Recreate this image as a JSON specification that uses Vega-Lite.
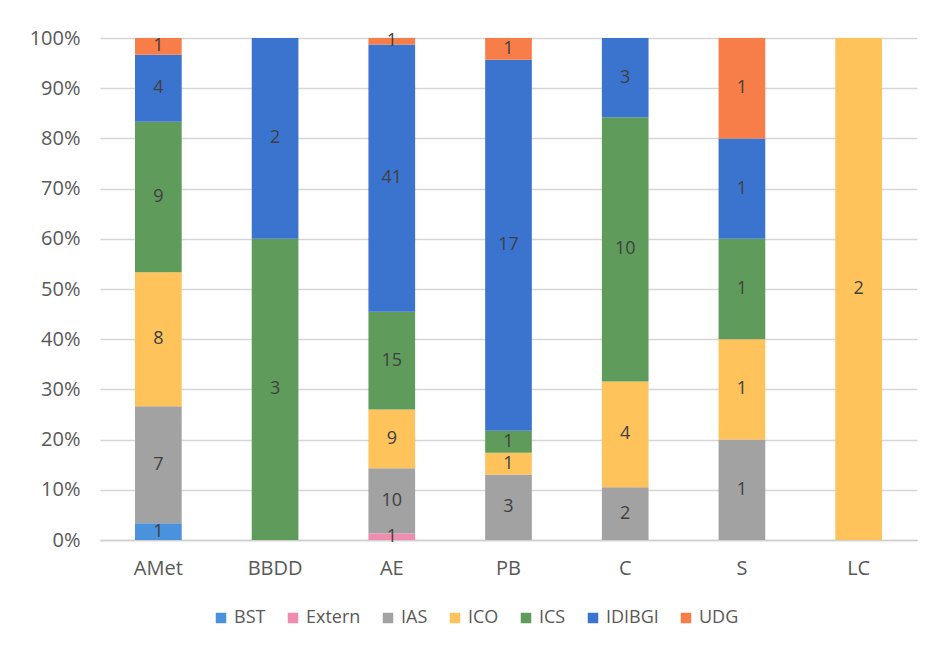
{
  "$schema": "https://vega.github.io/schema/vega-lite/v6.json",
  "width": 817,
  "height": 502,
  "autosize": {"type": "none"},
  "padding": {"left": 100, "top": 38, "right": 10, "bottom": 113},
  "background": "white",
  "config": {
    "view": {"stroke": null},
    "font": "Open Sans",
    "axis": {"labelFont": "Open Sans", "labelColor": "#595959"},
    "legend": {"labelFont": "Open Sans"}
  },
  "data": {
    "values": [
      {"cat": "AMet", "group": "BST", "ord": 1, "n": 1},
      {"cat": "AMet", "group": "IAS", "ord": 3, "n": 7},
      {"cat": "AMet", "group": "ICO", "ord": 4, "n": 8},
      {"cat": "AMet", "group": "ICS", "ord": 5, "n": 9},
      {"cat": "AMet", "group": "IDIBGI", "ord": 6, "n": 4},
      {"cat": "AMet", "group": "UDG", "ord": 7, "n": 1},
      {"cat": "BBDD", "group": "ICS", "ord": 5, "n": 3},
      {"cat": "BBDD", "group": "IDIBGI", "ord": 6, "n": 2},
      {"cat": "AE", "group": "Extern", "ord": 2, "n": 1},
      {"cat": "AE", "group": "IAS", "ord": 3, "n": 10},
      {"cat": "AE", "group": "ICO", "ord": 4, "n": 9},
      {"cat": "AE", "group": "ICS", "ord": 5, "n": 15},
      {"cat": "AE", "group": "IDIBGI", "ord": 6, "n": 41},
      {"cat": "AE", "group": "UDG", "ord": 7, "n": 1},
      {"cat": "PB", "group": "IAS", "ord": 3, "n": 3},
      {"cat": "PB", "group": "ICO", "ord": 4, "n": 1},
      {"cat": "PB", "group": "ICS", "ord": 5, "n": 1},
      {"cat": "PB", "group": "IDIBGI", "ord": 6, "n": 17},
      {"cat": "PB", "group": "UDG", "ord": 7, "n": 1},
      {"cat": "C", "group": "IAS", "ord": 3, "n": 2},
      {"cat": "C", "group": "ICO", "ord": 4, "n": 4},
      {"cat": "C", "group": "ICS", "ord": 5, "n": 10},
      {"cat": "C", "group": "IDIBGI", "ord": 6, "n": 3},
      {"cat": "S", "group": "IAS", "ord": 3, "n": 1},
      {"cat": "S", "group": "ICO", "ord": 4, "n": 1},
      {"cat": "S", "group": "ICS", "ord": 5, "n": 1},
      {"cat": "S", "group": "IDIBGI", "ord": 6, "n": 1},
      {"cat": "S", "group": "UDG", "ord": 7, "n": 1},
      {"cat": "LC", "group": "ICO", "ord": 4, "n": 2}
    ]
  },
  "transform": [
    {"stack": "n", "groupby": ["cat"], "sort": [{"field": "ord"}], "as": ["y0", "y1"], "offset": "normalize"},
    {"calculate": "(datum.y0 + datum.y1) / 2", "as": "ymid"}
  ],
  "encoding": {
    "x": {
      "field": "cat",
      "type": "nominal",
      "sort": ["AMet", "BBDD", "AE", "PB", "C", "S", "LC"],
      "scale": {"paddingInner": 0.6, "paddingOuter": 0.3},
      "axis": {
        "title": null,
        "labelAngle": 0,
        "labelFontSize": 20,
        "labelPadding": 18,
        "ticks": false,
        "domainColor": "#d0d0d0",
        "domainWidth": 1.5,
        "grid": false
      }
    }
  },
  "layer": [
    {
      "mark": {"type": "bar"},
      "encoding": {
        "y": {
          "field": "y0",
          "type": "quantitative",
          "scale": {"domain": [0, 1], "nice": false},
          "axis": {
            "title": null,
            "format": ".0%",
            "values": [0, 0.1, 0.2, 0.3, 0.4, 0.5, 0.6, 0.7, 0.8, 0.9, 1],
            "labelOverlap": false,
            "labelFontSize": 20,
            "labelPadding": 20,
            "ticks": false,
            "domain": false,
            "gridColor": "#d6d6d6",
            "gridWidth": 1.5
          }
        },
        "y2": {"field": "y1"},
        "color": {
          "field": "group",
          "type": "nominal",
          "scale": {
            "domain": ["BST", "Extern", "IAS", "ICO", "ICS", "IDIBGI", "UDG"],
            "range": ["#4a93dc", "#ee8db0", "#a2a2a2", "#ffc35c", "#5f9c5c", "#3b74cf", "#f77e48"]
          },
          "legend": {
            "title": null,
            "orient": "none",
            "direction": "horizontal",
            "legendX": 112,
            "legendY": 571,
            "symbolType": "square",
            "symbolSize": 110,
            "symbolStrokeWidth": 0,
            "labelFontSize": 18,
            "labelColor": "#595959",
            "columnPadding": 18,
            "labelOffset": 4
          }
        },
        "order": {"field": "ord"}
      }
    },
    {
      "mark": {"type": "text", "fontSize": 18, "color": "#404040", "baseline": "middle"},
      "encoding": {
        "y": {
          "field": "ymid",
          "type": "quantitative",
          "axis": {
            "title": null,
            "format": ".0%",
            "values": [0, 0.1, 0.2, 0.3, 0.4, 0.5, 0.6, 0.7, 0.8, 0.9, 1],
            "labelOverlap": false,
            "labelFontSize": 20,
            "labelPadding": 20,
            "ticks": false,
            "domain": false,
            "gridColor": "#d6d6d6",
            "gridWidth": 1.5
          }
        },
        "text": {"field": "n", "type": "quantitative"}
      }
    }
  ]
}
